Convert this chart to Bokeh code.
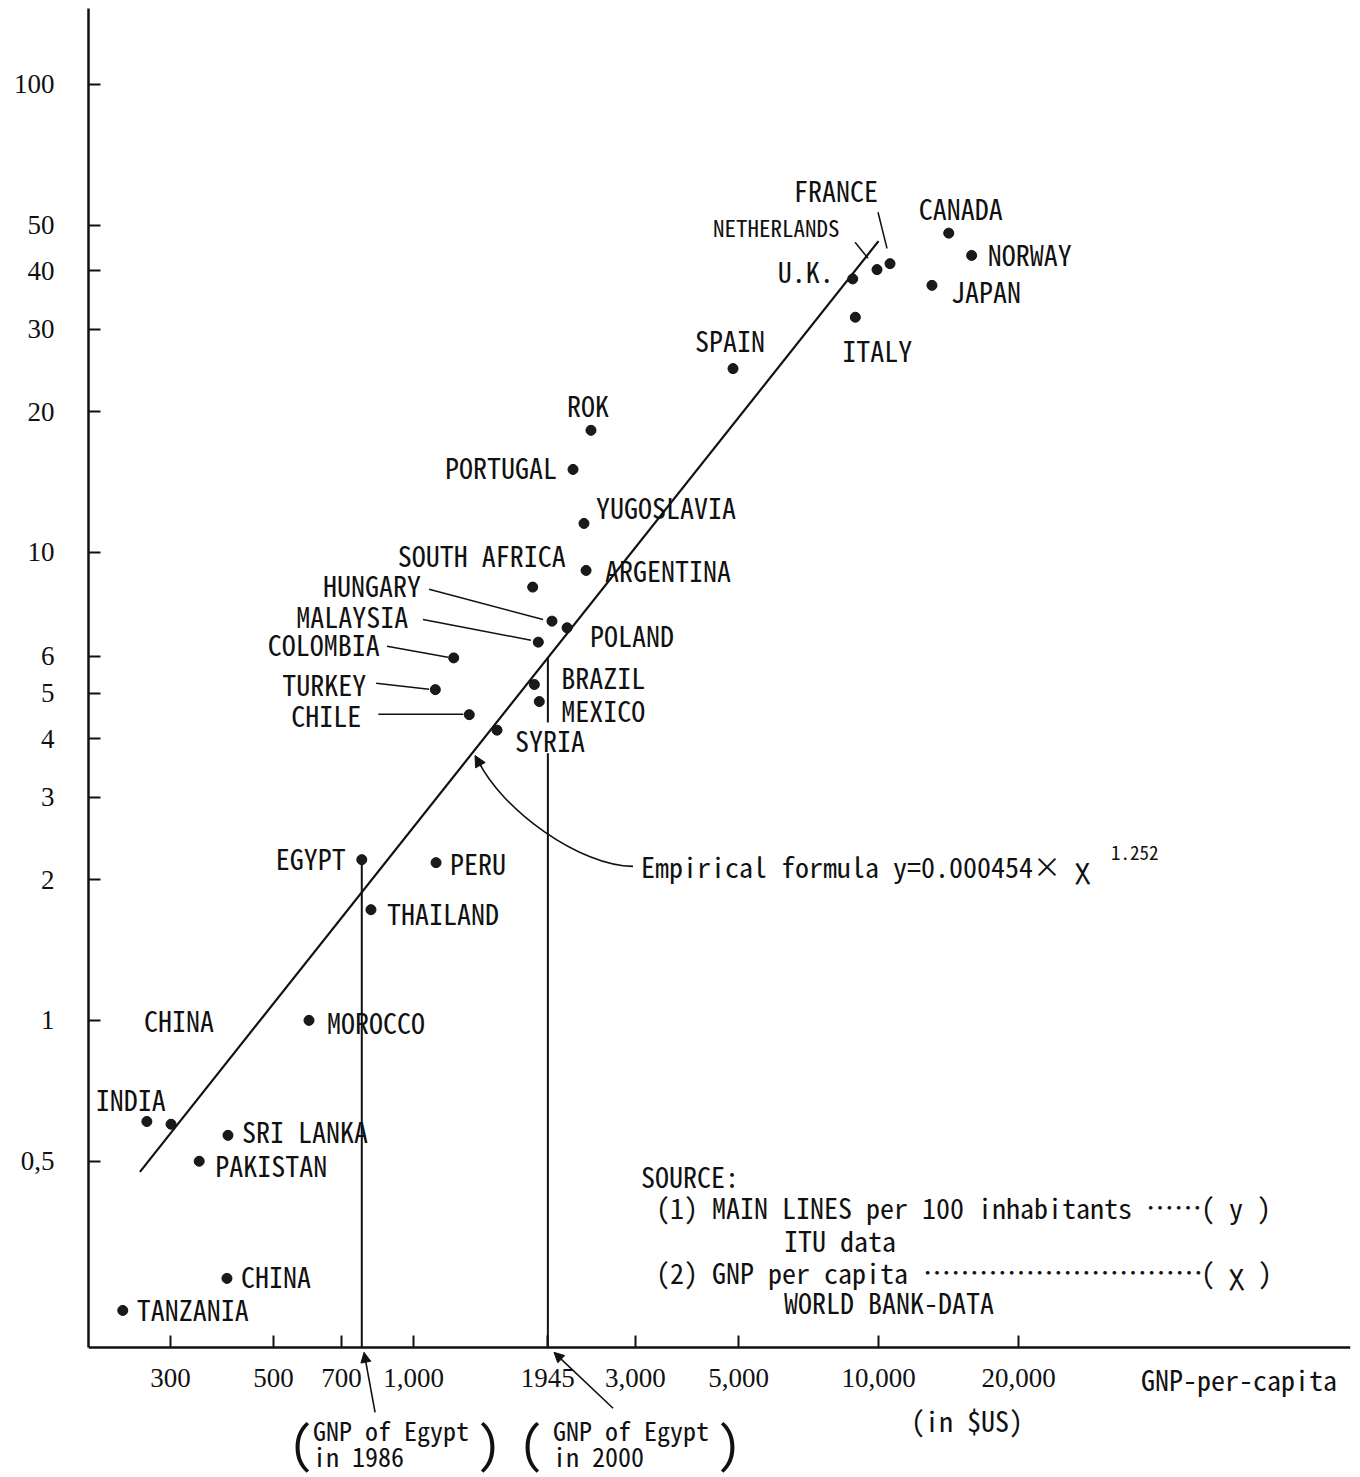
import math
from bokeh.plotting import figure
from bokeh.models import Range1d, FixedTicker, Label, Arrow, NormalHead, ColumnDataSource
from bokeh.core.properties import value
from bokeh.embed import file_html
from bokeh.resources import INLINE

# ---------------- data ----------------
COUNTRIES = ["TANZANIA", "CHINA", "PAKISTAN", "SRI LANKA", "INDIA", "CHINA",
             "MOROCCO", "EGYPT", "THAILAND", "PERU", "SYRIA", "CHILE", "TURKEY",
             "COLOMBIA", "MALAYSIA", "HUNGARY", "SOUTH AFRICA", "BRAZIL", "MEXICO",
             "POLAND", "ARGENTINA", "YUGOSLAVIA", "PORTUGAL", "ROK", "SPAIN",
             "ITALY", "U.K.", "NETHERLANDS", "FRANCE", "CANADA", "NORWAY", "JAPAN"]
GNP_PER_CAPITA = [237, 397, 346, 399, 267, 301,
                  596, 774, 810, 1118, 1512, 1318, 1114,
                  1220, 1855, 1985, 1804, 1819, 1864,
                  2139, 2350, 2326, 2203, 2408, 4865,
                  8915, 8800, 9926, 10586, 14158, 15860, 13030]
MAIN_LINES = [0.240, 0.281, 0.500, 0.568, 0.608, 0.600,
              1.00, 2.205, 1.724, 2.173, 4.17, 4.50, 5.09,
              5.95, 6.43, 7.13, 8.43, 5.22, 4.80,
              6.90, 9.15, 11.53, 15.04, 18.23, 24.7,
              31.8, 38.4, 40.2, 41.4, 48.1, 43.1, 37.2]

# label placement (screen pixel offsets from each point) - layout only
LABEL_DX = [14, 14, 16, 14, -51, -27,
            18, -16, 16, 14, 18, -108, -69,
            -74, -130, -131, -135, 27, 22,
            23, 19, 12, -16, -24, -38,
            -13, -19, -164, -96, -30, 16, 19]
LABEL_DY = [-1, -2, 4, -4, -23, -104,
            2, -2, 3, 0, 10, 0, -6,
            -14, -26, -36, -32, -8, 8,
            7, 0, -16, -2, -25, -29,
            33, -8, -43, -74, -25, -1, 6]
LABEL_ALIGN = ["left", "left", "left", "left", "left", "left",
               "left", "right", "left", "left", "left", "right", "right",
               "right", "right", "right", "left", "left", "left",
               "left", "left", "left", "right", "left", "left",
               "left", "right", "left", "left", "left", "left", "left"]

# empirical formula y = a * x ** b
FIT_COEF = 0.000454
FIT_EXP = 1.252
FIT_X = [258, 10000]

EGYPT_GNP_1986 = 774
EGYPT_GNP_2000 = 1945

X_TICKS = [300, 500, 700, 1000, 1945, 3000, 5000, 10000, 20000]
X_TICK_LABELS = ["300", "500", "700", "1,000", "1945", "3,000", "5,000", "10,000", "20,000"]
Y_TICKS = [0.5, 1, 2, 3, 4, 5, 6, 10, 20, 30, 40, 50, 100]
Y_TICK_LABELS = ["0,5", "1", "2", "3", "4", "5", "6", "10", "20", "30", "40", "50", "100"]

# ---------------- figure ----------------
MONO = "'Noto Sans Mono CJK JP', 'Liberation Mono', monospace"
SERIF = "'Liberation Serif', serif"
INK = "#111111"

PX_PER_DECADE_X = 465.0
PX_PER_DECADE_Y = 468.0
FRAME_W = 1262
AXIS_H = 1339          # height of the drawn y axis (0.2 .. top)
BELOW = 130            # room under the x axis for notes
X_START, Y_AXIS_START = 200, 0.2
X_END = X_START * 10 ** (FRAME_W / PX_PER_DECADE_X)
Y_END = Y_AXIS_START * 10 ** (AXIS_H / PX_PER_DECADE_Y)
Y_VIEW_START = Y_AXIS_START / 10 ** (BELOW / PX_PER_DECADE_Y)

p = figure(frame_width=FRAME_W, frame_height=AXIS_H + BELOW,
           x_axis_type="log", y_axis_type="log",
           x_range=Range1d(X_START, X_END), y_range=Range1d(Y_VIEW_START, Y_END),
           min_border_left=88, min_border_right=2, min_border_top=8, min_border_bottom=0,
           output_backend="svg", toolbar_location=None)
p.outline_line_color = None
p.grid.visible = False
p.background_fill_color = "white"
p.border_fill_color = "white"

for ax in (p.xaxis[0], p.yaxis[0]):
    ax.axis_line_width = 2.5
    ax.axis_line_color = INK
    ax.major_tick_line_width = 2
    ax.major_tick_line_color = INK
    ax.major_tick_out = 0
    ax.major_tick_in = 12
    ax.minor_tick_line_color = None
    ax.major_label_text_font = SERIF
    ax.major_label_text_font_size = "27px"
    ax.major_label_text_color = INK

xa = p.xaxis[0]
xa.fixed_location = Y_AXIS_START
xa.ticker = FixedTicker(ticks=X_TICKS)
xa.major_label_overrides = {t: s for t, s in zip(X_TICKS, X_TICK_LABELS)}
xa.major_label_standoff = 21
ya = p.yaxis[0]
ya.bounds = (Y_AXIS_START, Y_END)
ya.ticker = FixedTicker(ticks=Y_TICKS)
ya.major_label_overrides = {t: s for t, s in zip(Y_TICKS, Y_TICK_LABELS)}
ya.major_label_standoff = 34

# empirical formula line
fit_y = [FIT_COEF * x ** FIT_EXP for x in FIT_X]
p.line(FIT_X, fit_y, line_color=INK, line_width=2.2)

# vertical projection lines (GNP of Egypt 1986 and 2000)
egypt_idx = COUNTRIES.index("EGYPT")
fit_2000 = FIT_COEF * EGYPT_GNP_2000 ** FIT_EXP
p.segment(x0=[EGYPT_GNP_1986, EGYPT_GNP_2000, EGYPT_GNP_2000],
          y0=[Y_AXIS_START, Y_AXIS_START, 4.33],
          x1=[EGYPT_GNP_1986, EGYPT_GNP_2000, EGYPT_GNP_2000],
          y1=[MAIN_LINES[egypt_idx], 3.72, fit_2000],
          line_color=INK, line_width=2)

# leader lines from labels to points
LEADER_X0 = [840, 831, 877, 1048, 1080, 8903, 9975]
LEADER_Y0 = [4.51, 5.25, 6.30, 7.19, 8.34, 45.97, 53.3]
LEADER_X1 = [1280, 1080, 1186, 1789, 1899, 9493, 10430]
LEADER_Y1 = [4.51, 5.10, 5.97, 6.49, 7.19, 42.5, 44.6]
p.segment(x0=LEADER_X0, y0=LEADER_Y0, x1=LEADER_X1, y1=LEADER_Y1,
          line_color=INK, line_width=1.5)

# points
p.scatter(GNP_PER_CAPITA, MAIN_LINES, size=10, marker="circle",
          fill_color="#1a1a1a", line_color=INK, line_width=1)

# labels
def group(cond):
    idx = [i for i in range(len(COUNTRIES)) if cond(i)]
    return ColumnDataSource(dict(
        x=[GNP_PER_CAPITA[i] for i in idx], y=[MAIN_LINES[i] for i in idx],
        name=[COUNTRIES[i] for i in idx], dx=[LABEL_DX[i] for i in idx],
        dy=[LABEL_DY[i] for i in idx]))

small = "NETHERLANDS"
src_left = group(lambda i: LABEL_ALIGN[i] == "left" and COUNTRIES[i] != small)
src_right = group(lambda i: LABEL_ALIGN[i] == "right")
src_small = group(lambda i: COUNTRIES[i] == small)
for src, align, size in ((src_left, "left", "28px"), (src_right, "right", "28px"),
                         (src_small, "left", "23px")):
    p.text(x="x", y="y", text="name", x_offset="dx", y_offset="dy", source=src,
           text_align=align, text_baseline="middle", text_font=value(MONO),
           text_font_size=size, text_color=INK)

# empirical formula annotation with curved arrow
p.bezier(x0=[2965], y0=[2.133], x1=[1369], y1=[3.63],
         cx0=[2292], cy0=[2.133], cx1=[1543], cy1=[2.81],
         line_color=INK, line_width=1.6)
p.add_layout(Arrow(end=NormalHead(size=11, fill_color=INK, line_color=INK),
                   x_start=1397, y_start=3.49, x_end=1356, y_end=3.68,
                   line_color=INK, line_width=1.6))

def lab(x, y, text, size="28px", align="left", font=MONO):
    p.add_layout(Label(x=x, y=y, text=text, text_font=font, text_font_size=size,
                       text_align=align, text_baseline="middle", text_color=INK))

lab(3084, 2.133, "Empirical formula y=0.000454× χ")
lab(31623, 2.274, "1.252", size="19px")

# source block
lab(3084, 0.464, "SOURCE:")
lab(3323, 0.3985, "(1) MAIN LINES per 100 inhabitants")
lab(37610, 0.3985, "……")
lab(49370, 0.3985, "( y )")
lab(6264, 0.3388, "ITU data")
lab(3323, 0.2893, "(2) GNP per capita")
lab(12460, 0.2893, "…………………………")
lab(49370, 0.2893, "( χ )")
lab(6264, 0.2496, "WORLD BANK-DATA")

# below-axis texts
lab(36690, 0.1709, "GNP-per-capita")
lab(11745, 0.1397, "(in $US)")

lab(608, 0.1337, "GNP of Egypt", size="26px")
lab(608, 0.1176, "in 1986", size="26px")
lab(573, 0.126, "(", size="50px", align="center")
lab(1453, 0.126, ")", size="50px", align="center")
lab(1995, 0.1337, "GNP of Egypt", size="26px")
lab(1995, 0.1176, "in 2000", size="26px")
lab(1789, 0.126, "(", size="50px", align="center")
lab(4769, 0.126, ")", size="50px", align="center")

p.add_layout(Arrow(end=NormalHead(size=10, fill_color=INK, line_color=INK),
                   x_start=826.7, y_start=0.1454, x_end=782.7, y_end=0.1953,
                   line_color=INK, line_width=1.6))
p.add_layout(Arrow(end=NormalHead(size=10, fill_color=INK, line_color=INK),
                   x_start=2686, y_start=0.1483, x_end=2005, y_end=0.1953,
                   line_color=INK, line_width=1.6))

open("out.html", "w").write(file_html(p, INLINE))
